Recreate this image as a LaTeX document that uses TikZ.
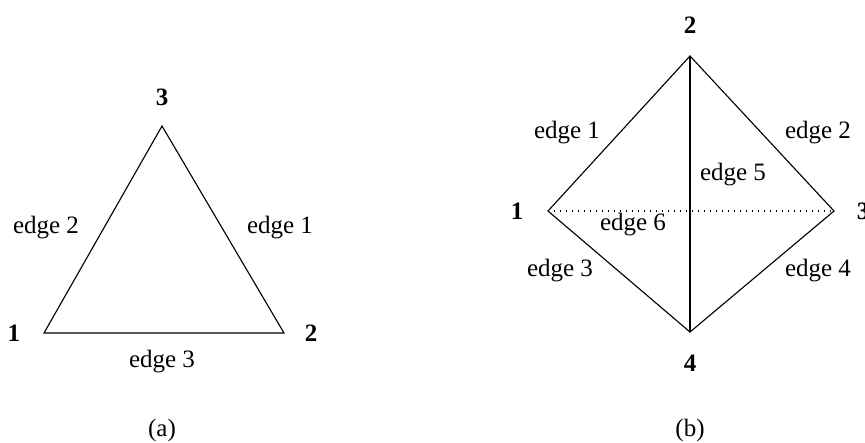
\documentclass[tikz,border=0pt]{standalone}
\usepackage{fontspec}
\setmainfont{Liberation Serif}
\begin{document}
\begin{tikzpicture}[x=0.4pt,y=-0.4pt,
  vlabel/.style={font=\bfseries\fontsize{10}{12}\selectfont, inner sep=0pt},
  elabel/.style={font=\fontsize{10}{12}\selectfont, inner sep=0pt},
  edgeline/.style={line width=0.45pt},
  hidden/.style={line width=0.5pt, dash pattern=on 0.5pt off 1.9pt}]
\useasboundingbox (0,0) rectangle (865,442);
% (a) triangle
\coordinate (a1) at (44,333);
\coordinate (a2) at (284,333);
\coordinate (a3) at (162,126);
\draw[edgeline] (a1) -- (a2) -- (a3) -- cycle;
\node[vlabel] (la1) at (14,333) {1};
\node[vlabel] (la2) at (311,333) {2};
\node[vlabel] (la3) at (162,97) {3};
\node[elabel] (ea2) at (46,228) {edge 2};
\node[elabel] (ea1) at (280,228) {edge 1};
\node[elabel] (ea3) at (162,362) {edge 3};
\node[elabel] (capa) at (162,430) {(a)};
% (b) tetrahedron
\coordinate (b1) at (548,211);
\coordinate (b2) at (690,56);
\coordinate (b3) at (834,211);
\coordinate (b4) at (690,332);
\draw[edgeline] (b1) -- (b2) -- (b3) -- (b4) -- cycle;
\draw[edgeline] (b2) -- (b4);
\draw[hidden] (b1) -- (b3);
\node[vlabel] (lb1) at (517,211) {1};
\node[vlabel] (lb2) at (690,25) {2};
\node[vlabel] (lb3) at (863,211) {3};
\node[vlabel] (lb4) at (690,363) {4};
\node[elabel] (eb1) at (567,133) {edge 1};
\node[elabel] (eb2) at (818,133) {edge 2};
\node[elabel] (eb5) at (733,175) {edge 5};
\node[elabel] (eb6) at (633,225) {edge 6};
\node[elabel] (eb3) at (560,271) {edge 3};
\node[elabel] (eb4) at (818,271) {edge 4};
\node[elabel] (capb) at (690,430) {(b)};
\end{tikzpicture}
\end{document}
